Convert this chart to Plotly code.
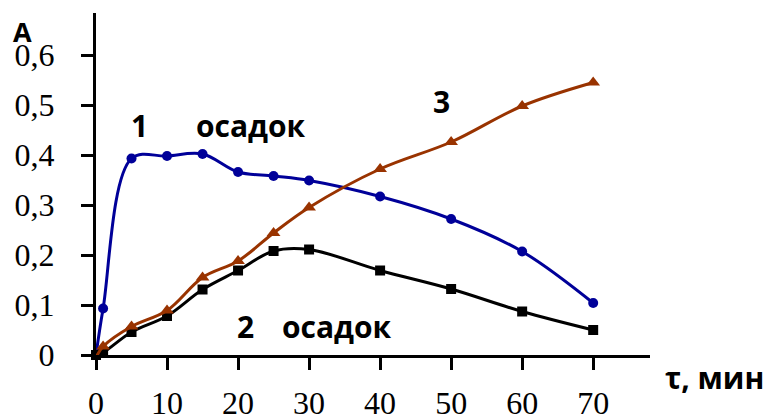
import plotly.graph_objects as go

# Data
tau = [0, 1, 5, 10, 15, 20, 25, 30, 40, 50, 60, 70]
series1 = [0, 0.093, 0.393, 0.398, 0.402, 0.366, 0.358, 0.349, 0.317, 0.272, 0.207, 0.104]
series2 = [0, 0.005, 0.046, 0.078, 0.131, 0.169, 0.208, 0.211, 0.169, 0.132, 0.087, 0.05]
series3 = [-0.005, 0.017, 0.057, 0.089, 0.155, 0.188, 0.244, 0.295, 0.372, 0.426, 0.498, 0.545]

x_tickvals = [0, 10, 20, 30, 40, 50, 60, 70]
x_ticktext = ["0", "10", "20", "30", "40", "50", "60", "70"]
y_tickvals = [0, 0.1, 0.2, 0.3, 0.4, 0.5, 0.6]
y_ticktext = ["0", "0,1", "0,2", "0,3", "0,4", "0,5", "0,6"]

W, H = 771, 419
L, R, T, B = 96, 121, 13, 64
X_RANGE = [0, 78]
Y_RANGE = [0, 0.684]

fig = go.Figure()

fig.add_trace(go.Scatter(
    x=tau, y=series1, mode="lines+markers", cliponaxis=False,
    line=dict(color="#000099", width=3, shape="spline", smoothing=1.0),
    marker=dict(symbol="circle", size=10, color="#000099"),
))
fig.add_trace(go.Scatter(
    x=tau, y=series2, mode="lines+markers", cliponaxis=False,
    line=dict(color="#000000", width=3, shape="spline", smoothing=1.0),
    marker=dict(symbol="square", size=10, color="#000000"),
))
fig.add_trace(go.Scatter(
    x=tau, y=series3, mode="lines+markers", cliponaxis=False,
    line=dict(color="#993300", width=3, shape="spline", smoothing=1.0),
    marker=dict(symbol="triangle-up", size=12, color="#993300"),
))

def px2paper(px, py):
    return (px - L) / (W - L - R), (H - B - py) / (H - T - B)

ann_font = dict(family="Open Sans", size=30, color="black", weight="bold")
annots = [
    ("1", 139, 126),
    ("осадок", 251, 126),
    ("3", 441, 102),
    ("2", 245, 326),
    ("осадок", 337, 326),
]
for txt, px, py in annots:
    ax, ay = px2paper(px, py)
    fig.add_annotation(text=txt, x=ax, y=ay, xref="paper", yref="paper",
                       showarrow=False, font=ann_font, xanchor="center", yanchor="middle")

ax, ay = px2paper(22, 31)
fig.add_annotation(text="A", x=ax, y=ay, xref="paper", yref="paper", showarrow=False,
                   font=dict(family="Open Sans", size=27, color="black", weight="bold"),
                   xanchor="center", yanchor="middle")
ax, ay = px2paper(715, 377)
fig.add_annotation(text="τ, мин", x=ax, y=ay, xref="paper", yref="paper", showarrow=False,
                   font=dict(family="Open Sans", size=30, color="black", weight="bold"),
                   xanchor="center", yanchor="middle")

fig.update_xaxes(
    range=X_RANGE, tickvals=x_tickvals, ticktext=x_ticktext,
    showline=True, linecolor="black", linewidth=3,
    ticks="outside", ticklen=12, tickwidth=3, tickcolor="black",
    showgrid=False, zeroline=False, ticklabelstandoff=6,
    tickfont=dict(family="Liberation Serif", size=32, color="black"),
)
fig.update_yaxes(
    range=Y_RANGE, tickvals=y_tickvals, ticktext=y_ticktext,
    showline=True, linecolor="black", linewidth=3,
    ticks="outside", ticklen=12, tickwidth=3, tickcolor="black",
    showgrid=False, zeroline=False, ticklabelstandoff=20,
    tickfont=dict(family="Liberation Serif", size=32, color="black"),
)

fig.update_layout(
    width=W, height=H,
    margin=dict(l=L, r=R, t=T, b=B, autoexpand=False),
    paper_bgcolor="white", plot_bgcolor="white",
    showlegend=False,
)

fig.write_html("out.html")
